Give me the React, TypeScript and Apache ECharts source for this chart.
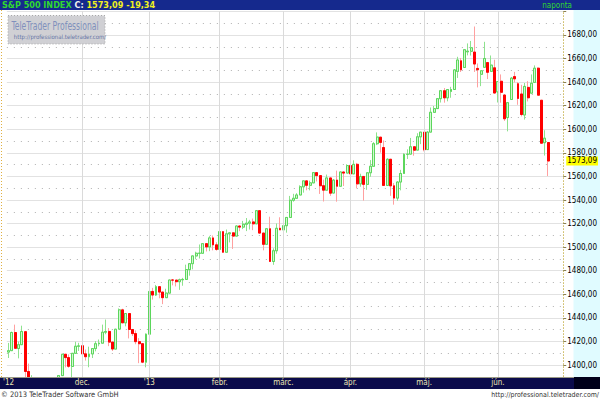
import React, { useEffect, useRef } from 'react';
import * as echarts from 'echarts';

// Trading days per month (year, month, days)
const tradingDays: [number, number, number[]][] = [
  [2012, 10, [31]],
  [2012, 11, [1, 2, 5, 6, 7, 8, 9, 12, 13, 14, 15, 16, 19, 20, 21, 23, 26, 27, 28, 29, 30]],
  [2012, 12, [3, 4, 5, 6, 7, 10, 11, 12, 13, 14, 17, 18, 19, 20, 21, 24, 26, 27, 28, 31]],
  [2013, 1, [2, 3, 4, 7, 8, 9, 10, 11, 14, 15, 16, 17, 18, 22, 23, 24, 25, 28, 29, 30, 31]],
  [2013, 2, [1, 4, 5, 6, 7, 8, 11, 12, 13, 14, 15, 19, 20, 21, 22, 25, 26, 27, 28]],
  [2013, 3, [1, 4, 5, 6, 7, 8, 11, 12, 13, 14, 15, 18, 19, 20, 21, 22, 25, 26, 27, 28]],
  [2013, 4, [1, 2, 3, 4, 5, 8, 9, 10, 11, 12, 15, 16, 17, 18, 19, 22, 23, 24, 25, 26, 29, 30]],
  [2013, 5, [1, 2, 3, 6, 7, 8, 9, 10, 13, 14, 15, 16, 17, 20, 21, 22, 23, 24, 28, 29, 30, 31]],
  [2013, 6, [3, 4, 5, 6, 7, 10, 11, 12, 13, 14, 17, 18, 19, 20, 21, 24]],
];
const emptyDates = ['2013-06-25', '2013-06-26', '2013-06-27', '2013-06-28'];

const opens = [
  1410.99,
  1412.2, 1427.59, 1414.0, 1417.26, 1428.27, 1394.53, 1377.55, 1379.86, 1380.03, 1374.64, 1355.41, 1353.36, 1359.88, 1386.82, 1387.79, 1391.03, 1409.15, 1406.29, 1398.77, 1409.96, 1415.95,
  1416.34, 1409.46, 1407.05, 1409.43, 1413.95, 1418.07, 1418.55, 1427.84, 1428.48, 1419.45, 1413.54, 1430.47, 1446.79, 1435.81, 1443.67, 1430.15, 1426.66, 1419.83, 1418.1, 1402.43,
  1426.19, 1462.42, 1459.37, 1466.47, 1461.89, 1457.15, 1461.02, 1472.12, 1472.05, 1470.67, 1472.33, 1472.63, 1480.95, 1485.98, 1492.56, 1494.81, 1494.82, 1502.96, 1500.18, 1507.84, 1501.96,
  1498.11, 1513.17, 1495.71, 1511.29, 1512.12, 1509.39, 1517.93, 1517.01, 1519.43, 1520.33, 1521.38, 1519.79, 1530.94, 1511.95, 1502.42, 1515.6, 1487.85, 1496.94, 1515.99,
  1514.68, 1518.2, 1525.2, 1539.79, 1541.46, 1544.26, 1551.15, 1556.22, 1552.48, 1554.52, 1563.21, 1560.7, 1552.1, 1548.34, 1558.71, 1545.9, 1556.89, 1551.69, 1563.75, 1562.86,
  1569.18, 1562.17, 1570.25, 1553.69, 1559.98, 1553.26, 1563.11, 1568.61, 1587.73, 1593.3, 1584.5, 1552.36, 1574.57, 1552.03, 1541.61, 1555.25, 1562.5, 1578.78, 1578.93, 1585.16, 1582.34, 1593.58,
  1597.55, 1582.77, 1597.6, 1614.4, 1617.55, 1625.95, 1632.69, 1626.69, 1632.1, 1633.75, 1649.13, 1658.07, 1652.45, 1665.71, 1666.2, 1665.5, 1651.62, 1646.67, 1652.63, 1656.57, 1649.14, 1652.13,
  1631.71, 1640.73, 1629.05, 1609.94, 1625.27, 1644.67, 1638.64, 1629.94, 1612.15, 1635.52, 1630.64, 1639.77, 1651.83, 1624.62, 1588.62, 1588.77,
];
const closes = [
  1412.16,
  1427.59, 1414.2, 1417.26, 1428.39, 1394.53, 1377.51, 1379.85, 1380.03, 1374.53, 1355.49, 1353.33, 1359.88, 1386.89, 1387.81, 1391.03, 1409.15, 1406.29, 1398.94, 1409.93, 1415.95, 1416.18,
  1409.46, 1407.05, 1409.28, 1413.94, 1418.07, 1418.55, 1427.84, 1428.48, 1419.45, 1413.58, 1430.36, 1446.79, 1435.81, 1443.69, 1430.15, 1426.66, 1419.83, 1418.1, 1402.43, 1426.19,
  1462.42, 1459.37, 1466.47, 1461.89, 1457.15, 1461.02, 1472.12, 1472.05, 1470.68, 1472.34, 1472.63, 1480.94, 1485.98, 1492.56, 1494.81, 1494.82, 1502.96, 1500.18, 1507.84, 1501.96, 1498.11,
  1513.17, 1495.71, 1511.29, 1512.12, 1509.39, 1517.93, 1517.01, 1519.43, 1520.33, 1521.38, 1519.79, 1530.94, 1511.95, 1502.42, 1515.6, 1487.85, 1496.94, 1515.99, 1514.68,
  1518.2, 1525.2, 1539.79, 1541.46, 1544.26, 1551.18, 1556.22, 1552.48, 1554.52, 1563.23, 1560.7, 1552.1, 1548.34, 1558.71, 1545.8, 1556.89, 1551.69, 1563.77, 1562.85, 1569.19,
  1562.17, 1570.25, 1553.69, 1559.98, 1553.28, 1563.07, 1568.61, 1587.73, 1593.37, 1588.85, 1552.36, 1574.57, 1552.01, 1541.61, 1555.25, 1562.5, 1578.78, 1578.79, 1585.16, 1582.24, 1593.61, 1597.57,
  1582.7, 1597.59, 1614.42, 1617.5, 1625.96, 1632.69, 1626.67, 1633.7, 1633.77, 1650.34, 1658.78, 1650.47, 1667.47, 1666.29, 1669.16, 1655.35, 1650.51, 1649.6, 1660.06, 1648.36, 1654.41, 1630.74,
  1640.42, 1631.38, 1608.9, 1622.56, 1643.38, 1642.81, 1626.13, 1612.52, 1636.36, 1626.73, 1639.04, 1651.81, 1628.93, 1588.19, 1592.43, 1573.09,
];
const lows = [
  1405.95,
  1412.2, 1414.0, 1405.66, 1417.26, 1388.14, 1377.51, 1373.03, 1377.51, 1368.74, 1353.94, 1348.84, 1343.35, 1359.88, 1374.91, 1381.95, 1391.03, 1398.03, 1397.68, 1385.43, 1409.96, 1411.95,
  1408.13, 1403.77, 1398.11, 1405.93, 1411.62, 1415.89, 1418.55, 1426.13, 1416.0, 1411.88, 1413.54, 1430.47, 1435.8, 1432.82, 1422.58, 1424.66, 1417.64, 1401.58, 1401.58, 1398.04,
  1426.19, 1455.53, 1458.59, 1456.62, 1451.64, 1457.15, 1461.02, 1467.58, 1466.67, 1463.76, 1467.26, 1472.63, 1475.81, 1481.16, 1489.9, 1490.37, 1494.82, 1496.33, 1496.58, 1497.29, 1496.99,
  1498.11, 1495.29, 1495.71, 1504.04, 1498.49, 1509.39, 1513.53, 1515.3, 1513.61, 1514.96, 1514.41, 1519.79, 1511.41, 1497.29, 1502.42, 1487.85, 1485.01, 1494.41, 1514.68,
  1501.48, 1512.29, 1525.2, 1538.57, 1541.46, 1544.26, 1546.22, 1548.24, 1548.19, 1554.52, 1555.74, 1545.13, 1538.72, 1548.34, 1543.52, 1545.9, 1538.57, 1551.69, 1551.9, 1562.86,
  1558.95, 1562.17, 1549.94, 1551.25, 1539.5, 1548.63, 1559.75, 1568.61, 1586.58, 1580.19, 1552.28, 1552.36, 1543.53, 1536.03, 1539.4, 1548.19, 1562.5, 1574.82, 1578.93, 1577.56, 1582.34, 1587.4,
  1581.28, 1582.77, 1597.6, 1614.13, 1617.55, 1622.7, 1622.55, 1623.71, 1626.74, 1633.75, 1643.53, 1648.6, 1652.45, 1662.72, 1662.55, 1648.61, 1635.53, 1636.6, 1652.63, 1642.61, 1649.14, 1630.74,
  1622.72, 1622.56, 1607.09, 1598.23, 1625.27, 1639.77, 1620.77, 1610.92, 1608.21, 1623.62, 1630.64, 1639.77, 1628.93, 1588.19, 1577.7, 1560.33,
];
const highs = [
  1418.76,
  1428.35, 1434.27, 1419.9, 1433.38, 1428.27, 1401.23, 1391.39, 1384.87, 1388.81, 1380.13, 1360.62, 1362.03, 1386.89, 1389.77, 1391.25, 1409.16, 1409.15, 1409.01, 1410.14, 1419.7, 1418.86,
  1423.73, 1413.14, 1415.56, 1413.95, 1420.34, 1421.64, 1434.27, 1438.59, 1431.36, 1419.45, 1430.67, 1448.0, 1447.75, 1443.7, 1443.67, 1430.15, 1429.42, 1422.8, 1418.1, 1426.74,
  1462.43, 1465.47, 1467.94, 1466.47, 1461.89, 1464.73, 1472.3, 1472.75, 1472.05, 1473.31, 1473.96, 1485.16, 1485.98, 1492.56, 1496.13, 1502.27, 1503.26, 1503.23, 1509.35, 1509.94, 1504.19,
  1514.41, 1513.17, 1514.96, 1512.53, 1512.9, 1518.31, 1518.31, 1522.29, 1524.69, 1523.14, 1524.24, 1530.94, 1530.94, 1511.95, 1515.64, 1525.84, 1498.99, 1520.08, 1525.34,
  1519.99, 1525.27, 1543.47, 1545.25, 1545.78, 1552.48, 1556.27, 1556.77, 1556.39, 1563.32, 1563.62, 1560.7, 1557.25, 1561.56, 1558.71, 1557.74, 1564.91, 1563.95, 1564.07, 1570.28,
  1570.57, 1573.66, 1571.47, 1562.29, 1559.98, 1563.07, 1573.89, 1589.07, 1597.35, 1593.3, 1590.5, 1575.35, 1574.57, 1554.38, 1555.89, 1565.55, 1579.58, 1583.0, 1592.64, 1585.78, 1596.65, 1597.57,
  1597.55, 1598.6, 1618.46, 1619.77, 1626.03, 1632.78, 1635.01, 1633.7, 1636.0, 1651.1, 1661.49, 1660.51, 1667.47, 1672.84, 1674.93, 1687.18, 1655.83, 1649.78, 1674.21, 1656.57, 1662.6, 1658.99,
  1640.42, 1646.53, 1629.31, 1622.56, 1644.4, 1648.69, 1640.13, 1637.71, 1639.25, 1640.8, 1646.5, 1654.19, 1652.45, 1624.62, 1599.19, 1588.77,
];

const tickDates = ['2012-10-31', '2012-12-03', '2013-01-02', '2013-02-01', '2013-03-01', '2013-04-01', '2013-05-01', '2013-06-03'];
const tickLabels = ["'12", 'dec.', "'13", 'febr.', 'márc.', 'ápr.', 'máj.', 'jún.'];

const instrument = 'S&P 500 INDEX';
const periodLabel = 'naponta';
const brandTitle = 'TeleTrader Professional';
const brandUrl = 'http://professional.teletrader.com/';
const copyright = '© 2013 TeleTrader Software GmbH';

const pad = (n: number) => (n < 10 ? '0' + n : '' + n);
const dates = tradingDays.flatMap(([y, m, days]) => days.map((d) => `${y}-${pad(m)}-${pad(d)}`));
const allDates = dates.concat(emptyDates);
const fmt = (v: number) => v.toFixed(2).replace('.', ',');

const NARROW = '"Liberation Sans Narrow", "DejaVu Sans Condensed", "Arial Narrow", sans-serif';

export default function App() {
  const ref = useRef<HTMLDivElement>(null);
  useEffect(() => {
    if (!ref.current) return;
    const chart = echarts.init(ref.current, undefined, { renderer: 'svg' });
    const n = closes.length;
    const lastClose = closes[n - 1];
    const change = lastClose - closes[n - 2];
    const wickData = dates.map((_, i) => [opens[i], closes[i], lows[i], highs[i]]);
    const bodyData = dates.map((_, i) => [
      opens[i],
      closes[i],
      Math.min(opens[i], closes[i]),
      Math.max(opens[i], closes[i]),
    ]);

    const monthLines = tickDates.slice(1).map((d) => ({
      xAxis: allDates.indexOf(d),
      lineStyle: { color: '#dadada', type: 'solid', width: 1 },
      label: { show: false },
    }));

    chart.setOption({
      animation: false,
      backgroundColor: '#ffffff',
      grid: { left: 5, right: 27, top: 11.4, bottom: 11.4 },
      xAxis: {
        type: 'category',
        data: allDates,
        boundaryGap: true,
        z: 110,
        axisLine: { show: false },
        axisTick: { show: false },
        splitLine: { show: false },
        axisLabel: {
          inside: true,
          margin: 2,
          interval: (_i: number, v: string) => tickDates.includes(v),
          formatter: (v: string) => tickLabels[tickDates.indexOf(v)] ?? '',
          color: '#ece4b4',
          fontSize: 8,
          fontFamily: NARROW,
        },
      },
      yAxis: {
        type: 'value',
        position: 'right',
        min: 1380,
        max: 1700,
        interval: 20,
        axisLine: { show: true, lineStyle: { color: '#d2c070', type: [1, 2] } },
        axisTick: { show: true, length: 3, lineStyle: { color: '#8a8050' } },
        axisLabel: {
          margin: 4,
          fontSize: 8,
          color: '#000000',
          fontFamily: NARROW,
          formatter: (v: number) => (v >= 1400 && v <= 1680 ? fmt(v) : ''),
        },
        splitLine: { show: true, lineStyle: { color: '#e2e2e2', width: 1 } },
        minorTick: { show: false, splitNumber: 2 },
        minorSplitLine: { show: true, lineStyle: { color: '#b0b0b0', type: [1, 6] } },
      },
      series: [
        {
          type: 'line',
          data: [],
          z: 1,
          markLine: {
            silent: true,
            symbol: ['none', 'none'],
            animation: false,
            data: monthLines,
          },
        },
        {
          type: 'candlestick',
          data: wickData,
          barWidth: 2.4,
          z: 2,
          itemStyle: {
            color: '#8ee28e',
            color0: '#ffa0a0',
            borderColor: '#8ee28e',
            borderColor0: '#ffa0a0',
            borderWidth: 1,
          },
        },
        {
          type: 'candlestick',
          data: bodyData,
          barWidth: 2.4,
          z: 3,
          itemStyle: {
            color: '#d2f8d2',
            color0: '#ff0000',
            borderColor: '#5cd65c',
            borderColor0: '#ff0000',
            borderWidth: 1,
          },
          markLine: {
            silent: true,
            symbol: ['none', 'none'],
            animation: false,
            data: [
              {
                yAxis: lastClose,
                lineStyle: { width: 0, color: 'rgba(0,0,0,0)' },
                label: {
                  show: true,
                  position: 'end',
                  distance: 3,
                  formatter: fmt(lastClose),
                  backgroundColor: '#ffff00',
                  color: '#000000',
                  fontSize: 8,
                  fontFamily: NARROW,
                  padding: [1, 1, 0, 1],
                },
              },
            ],
          },
        },
      ],
      graphic: [
        { type: 'rect', z: -10, shape: { x: 573.5, y: 10, width: 27, height: 367 }, style: { fill: '#e0fbff' } },
        { type: 'line', z: 5, shape: { x1: 1.5, y1: 10, x2: 1.5, y2: 377 }, style: { stroke: '#e0b040', lineWidth: 1, lineDash: [1, 2] } },
        // header
        { type: 'rect', z: 100, shape: { x: 0, y: 0, width: 600, height: 10 }, style: { fill: '#15298d' } },
        {
          type: 'text',
          z: 101,
          x: 2,
          y: 5,
          style: {
            text: `{g|${instrument}} {w|C:} {y|${fmt(lastClose)} ${fmt(change)}}`,
            verticalAlign: 'middle',
            fontSize: 9,
            fontWeight: 'bold',
            fontFamily: NARROW,
            rich: {
              g: { fill: '#30d830', fontSize: 9, fontWeight: 'bold', fontFamily: NARROW },
              w: { fill: '#f0f0f0', fontSize: 9, fontWeight: 'bold', fontFamily: NARROW },
              y: { fill: '#f0f020', fontSize: 9, fontWeight: 'bold', fontFamily: NARROW },
            },
          },
        },
        {
          type: 'text',
          z: 101,
          x: 572,
          y: 5,
          style: { text: periodLabel, fill: '#30d830', fontSize: 8, fontFamily: NARROW, align: 'right', verticalAlign: 'middle' },
        },
        // brand box
        {
          type: 'rect',
          z: 50,
          shape: { x: 8, y: 15.5, width: 97, height: 28.5 },
          style: { fill: '#d0d0d4', stroke: '#a8a8a8', lineWidth: 1, lineDash: [1, 2] },
        },
        {
          type: 'text',
          z: 51,
          x: 55,
          y: 26,
          scaleX: 0.74,
          style: { text: brandTitle, fill: '#8090bc', fontSize: 11.5, fontFamily: NARROW, align: 'center', verticalAlign: 'middle' },
        },
        {
          type: 'text',
          z: 51,
          x: 60,
          y: 36,
          style: { text: brandUrl, fill: '#6676a6', fontSize: 6, fontFamily: NARROW, align: 'center', verticalAlign: 'middle' },
        },
        // bottom bar
        { type: 'rect', z: 100, shape: { x: 0, y: 377, width: 574, height: 12 }, style: { fill: '#0b0b4b' } },
        { type: 'rect', z: 100, shape: { x: 574, y: 377, width: 26, height: 12 }, style: { fill: '#00001a' } },
        { type: 'line', z: 101, shape: { x1: 0, y1: 377.5, x2: 574, y2: 377.5 }, style: { stroke: '#9a9a86', lineWidth: 1 } },
        // footer
        { type: 'rect', z: 100, shape: { x: 0, y: 389, width: 600, height: 11 }, style: { fill: '#ffffff' } },
        {
          type: 'text',
          z: 101,
          x: 1,
          y: 394.5,
          style: { text: copyright, fill: '#333333', fontSize: 7.5, fontFamily: NARROW, verticalAlign: 'middle' },
        },
        {
          type: 'text',
          z: 101,
          x: 599,
          y: 394.5,
          style: { text: brandUrl, fill: '#333333', fontSize: 7, fontFamily: NARROW, align: 'right', verticalAlign: 'middle' },
        },
      ],
    });
    return () => chart.dispose();
  }, []);
  return <div ref={ref} style={{ position: 'fixed', left: 0, top: 0, width: 600, height: 400 }} />;
}
